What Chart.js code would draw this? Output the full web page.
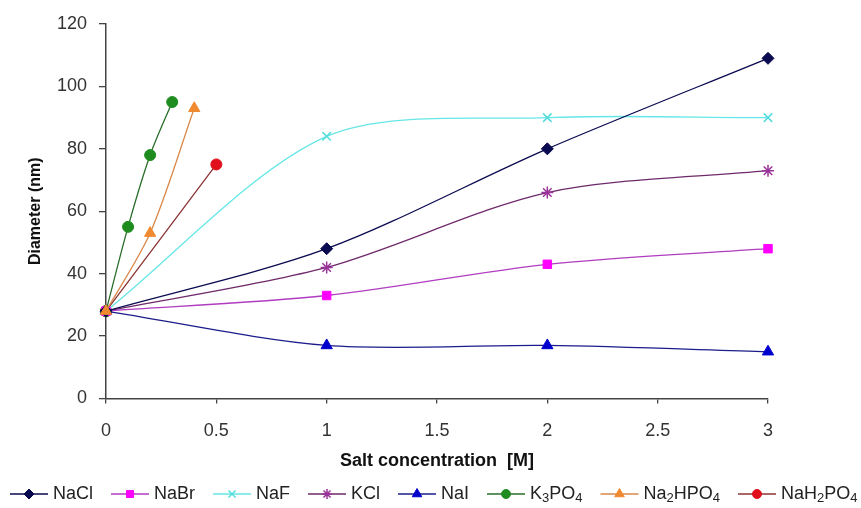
<!DOCTYPE html>
<html>
<head>
<meta charset="utf-8">
<script src="https://cdn.jsdelivr.net/npm/chart.js@4.4.0/dist/chart.umd.min.js"></script>
<style>
  html, body { margin: 0; padding: 0; background: #fff; }
  #wrap { width: 861px; height: 508px; }
</style>
</head>
<body>
<div id="wrap"><canvas id="chart" width="861" height="508"></canvas></div>
<script>
// salt concentration [M] -> diameter [nm]
const naclX = [0, 1, 2, 3];
const naclY = [28, 48, 80, 109];
const nabrX = [0, 1, 2, 3];
const nabrY = [28, 33, 43, 48];
const nafX = [0, 1, 2, 3];
const nafY = [28, 84, 90, 90];
const kclX = [0, 1, 2, 3];
const kclY = [28, 42, 66, 73];
const naiX = [0, 1, 2, 3];
const naiY = [28, 17, 17, 15];
const k3po4X = [0, 0.1, 0.2, 0.3];
const k3po4Y = [28, 55, 78, 95];
const na2hpo4X = [0, 0.2, 0.4];
const na2hpo4Y = [28, 53, 93];
const nah2po4X = [0, 0.5];
const nah2po4Y = [28, 75];

const xTicks = [0, 0.5, 1, 1.5, 2, 2.5, 3];
const yTicks = [0, 20, 40, 60, 80, 100, 120];

const FONT = "'Liberation Sans', Arial, sans-serif";

function points(xs, ys) {
  return xs.map((x, i) => ({ x, y: ys[i] }));
}

function series(label, xs, ys, line, marker, style, radius) {
  return {
    label,
    data: points(xs, ys),
    borderColor: line,
    backgroundColor: marker,
    borderWidth: 1.3,
    tension: 0.3,
    clip: false,
    pointStyle: style,
    pointRadius: radius,
    pointHoverRadius: radius,
    pointBackgroundColor: marker,
    pointBorderColor: marker,
    pointBorderWidth: style === "crossRot" || style === "star" ? 1.5 : 1,
  };
}

const datasets = [
  series("NaCl", naclX, naclY, "#0a0a50", "#0a0a50", "rectRot", 6),
  series("NaBr", nabrX, nabrY, "#b03cc0", "#ff00ff", "rect", 6),
  series("NaF", nafX, nafY, "#66e6e6", "#55dddd", "crossRot", 6),
  series("KCl", kclX, kclY, "#6e2a6a", "#993399", "star", 6),
  series("NaI", naiX, naiY, "#1c1c8c", "#0000cc", "triangle", 6.5),
  series("K₃PO₄", k3po4X, k3po4Y, "#2a6e2a", "#1e8c1e", "circle", 5.5),
  series("Na₂HPO₄", na2hpo4X, na2hpo4Y, "#d9884a", "#f08a30", "triangle", 6.5),
  series("NaH₂PO₄", nah2po4X, nah2po4Y, "#8a3535", "#e0101c", "circle", 5.5),
];
datasets[6].order = -1;

// -------------------------------
// legend drawn below the axis title
// -------------------------------
const SUBS = "₀₁₂₃₄₅₆₇₈₉";

function labelWidth(ctx, text) {
  let w = 0;
  for (const ch of text) {
    const sub = SUBS.indexOf(ch);
    ctx.font = (sub >= 0 ? "13px " : "18px ") + FONT;
    w += ctx.measureText(sub >= 0 ? String(sub) : ch).width;
  }
  return w;
}

function drawLabel(ctx, text, x, y) {
  ctx.textBaseline = "middle";
  ctx.textAlign = "left";
  ctx.fillStyle = "#222";
  for (const ch of text) {
    const sub = SUBS.indexOf(ch);
    const s = sub >= 0 ? String(sub) : ch;
    ctx.font = (sub >= 0 ? "13px " : "18px ") + FONT;
    ctx.fillText(s, x, sub >= 0 ? y + 4 : y);
    x += ctx.measureText(s).width;
  }
}

const bottomLegend = {
  id: "bottomLegend",
  afterDraw(chart) {
    const ctx = chart.ctx;
    const y = 494;
    let x = 10;
    ctx.save();
    chart.data.datasets.forEach((ds) => {
      ctx.strokeStyle = ds.borderColor;
      ctx.lineWidth = 1.5;
      ctx.beginPath();
      ctx.moveTo(x, y);
      ctx.lineTo(x + 38, y);
      ctx.stroke();
      ctx.fillStyle = ds.pointBackgroundColor;
      ctx.strokeStyle = ds.pointBorderColor;
      ctx.lineWidth = ds.pointBorderWidth;
      Chart.helpers.drawPoint(
        ctx,
        { pointStyle: ds.pointStyle, radius: ds.pointRadius - 1, rotation: 0, borderWidth: ds.pointBorderWidth },
        x + 19,
        y
      );
      x += 43;
      drawLabel(ctx, ds.label, x, y);
      x += labelWidth(ctx, ds.label) + 18;
    });
    ctx.restore();
  },
};

new Chart(document.getElementById("chart"), {
  type: "line",
  data: { datasets },
  plugins: [bottomLegend],
  options: {
    responsive: false,
    animation: false,
    layout: { padding: { top: 24, right: 93, bottom: 30, left: 0 } },
    plugins: { legend: { display: false }, tooltip: { enabled: false } },
    scales: {
      x: {
        type: "linear",
        min: 0,
        max: 3,
        afterFit: (scale) => { scale.height = 79.5; },
        afterBuildTicks: (scale) => { scale.ticks = xTicks.map((v) => ({ value: v })); },
        grid: { drawOnChartArea: false, drawTicks: true, tickLength: 5, color: "#444", lineWidth: 1.3 },
        border: { color: "#444", width: 1.5 },
        ticks: {
          padding: 17,
          color: "#333",
          font: { family: FONT, size: 18 },
          callback: (v) => String(v),
        },
        title: {
          display: true,
          text: "Salt concentration  [M]",
          color: "#111",
          font: { family: FONT, size: 18, weight: "bold" },
          padding: { top: 0, bottom: 6 },
        },
      },
      y: {
        min: 0,
        max: 120,
        afterFit: (scale) => { scale.width = 106; },
        afterBuildTicks: (scale) => { scale.ticks = yTicks.map((v) => ({ value: v })); },
        grid: { drawOnChartArea: false, drawTicks: true, tickLength: 7, color: "#444", lineWidth: 1.3 },
        border: { color: "#444", width: 1.5 },
        ticks: { padding: 12, color: "#333", font: { family: FONT, size: 18 } },
        title: {
          display: true,
          text: "Diameter (nm)",
          color: "#111",
          font: { family: FONT, size: 16, weight: "bold" },
          padding: { top: 26, bottom: 0 },
        },
      },
    },
  },
});
</script>
</body>
</html>
